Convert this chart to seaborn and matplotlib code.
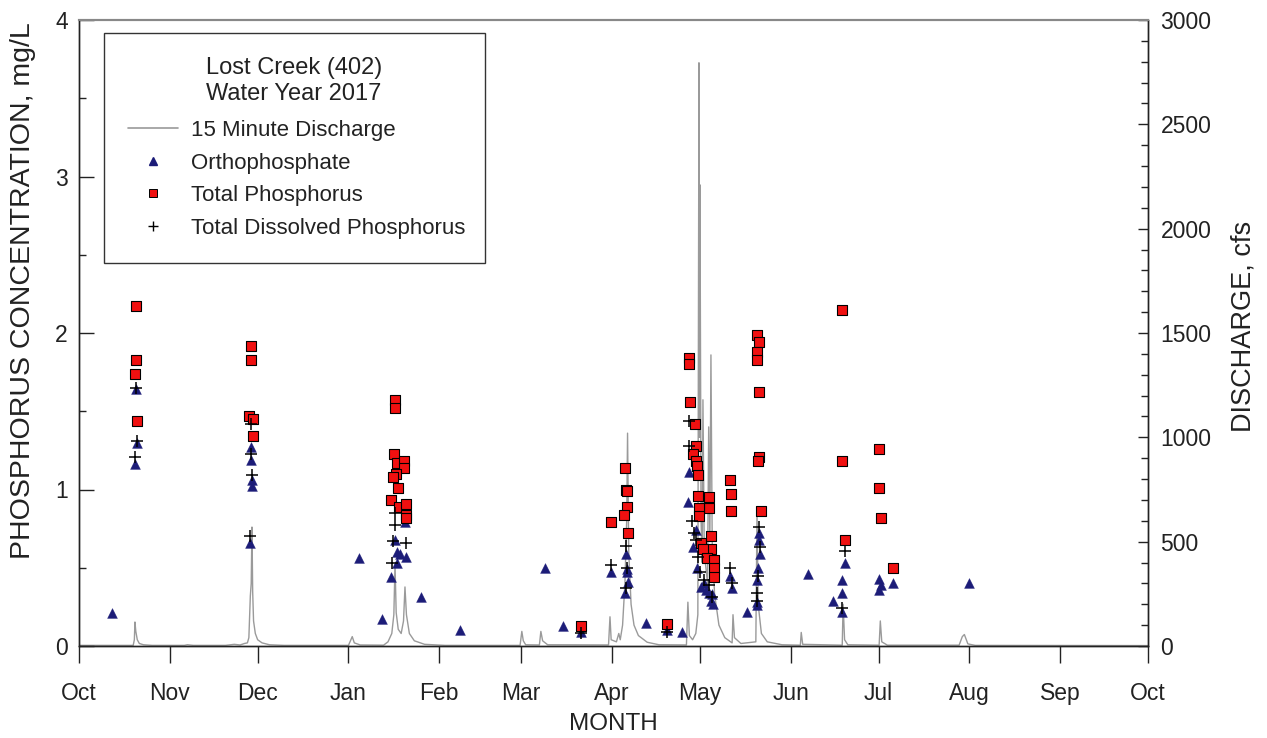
import numpy as np
import pandas as pd
import matplotlib
matplotlib.use("Agg")
import matplotlib.pyplot as plt
from matplotlib.ticker import MultipleLocator
from matplotlib.lines import Line2D
import seaborn as sns

START = pd.Timestamp("2016-10-01")
END = pd.Timestamp("2017-10-01")

# ---- data (day of water year, value) ----
ortho_day = [11.27, 19.46, 19.80, 19.12, 58.72, 58.72, 59.06, 59.06, 58.38, 95.60,
             103.45, 106.52, 107.89, 108.57, 109.59, 111.64, 108.57, 111.30, 116.76, 130.08,
             159.10, 165.24, 171.39, 181.63, 186.75, 187.09, 187.44, 186.41, 187.09, 193.58,
             200.75, 205.87, 208.26, 207.92, 210.65, 209.63, 211.00, 212.36, 215.09, 215.77,
             213.38, 216.12, 216.46, 214.07, 222.26, 222.94, 228.06, 232.16, 232.16, 232.50,
             231.82, 231.48, 231.48, 231.48, 248.89, 261.53, 260.50, 260.50, 257.43, 260.50,
             273.13, 273.81, 273.13, 277.91, 303.86]
ortho_val = [0.21, 1.64, 1.30, 1.16, 1.27, 1.19, 1.06, 1.02, 0.66, 0.56,
             0.17, 0.44, 0.68, 0.60, 0.59, 0.57, 0.53, 0.79, 0.31, 0.10,
             0.50, 0.13, 0.09, 0.47, 0.59, 0.49, 0.41, 0.34, 0.47, 0.15,
             0.10, 0.09, 1.11, 0.92, 0.74, 0.63, 0.50, 0.38, 0.34, 0.29,
             0.40, 0.33, 0.27, 0.36, 0.45, 0.37, 0.22, 0.72, 0.68, 0.59,
             0.50, 0.42, 0.28, 0.26, 0.46, 0.53, 0.42, 0.34, 0.29, 0.22,
             0.43, 0.39, 0.36, 0.40, 0.40]

tp_day = [19.46, 19.46, 19.12, 19.80, 58.72, 58.72, 58.21, 59.41, 59.41,
          107.89, 107.89, 107.55, 108.57, 110.96, 110.96, 108.23, 107.20, 108.91, 106.52,
          109.25, 111.64, 111.64, 111.64, 171.39, 181.63, 186.41, 186.75, 187.09, 187.09,
          186.07, 187.44, 200.75, 208.26, 208.26, 208.60, 210.31, 210.65, 209.63, 210.65,
          211.00, 211.34, 211.34, 215.09, 215.09, 211.68, 211.68, 212.36, 215.77, 215.77,
          213.04, 214.41, 216.80, 216.80, 216.80, 222.26, 222.60, 222.60, 231.48, 232.16,
          231.48, 231.48, 232.16, 232.16, 231.82, 232.84, 260.50, 260.50, 261.53, 273.13,
          273.13, 273.81, 277.91]
tp_val = [2.17, 1.83, 1.74, 1.44, 1.92, 1.83, 1.47, 1.45, 1.34,
          1.57, 1.52, 1.23, 1.17, 1.18, 1.14, 1.10, 1.08, 1.01, 0.93,
          0.89, 0.91, 0.84, 0.82, 0.13, 0.79, 1.14, 1.00, 0.99, 0.89,
          0.84, 0.72, 0.14, 1.84, 1.80, 1.56, 1.42, 1.28, 1.23, 1.18,
          1.15, 1.09, 0.96, 0.95, 0.88, 0.88, 0.83, 0.66, 0.70, 0.62,
          0.62, 0.56, 0.55, 0.50, 0.44, 1.06, 0.97, 0.86, 1.99, 1.94,
          1.88, 1.83, 1.62, 1.21, 1.18, 0.86, 2.15, 1.18, 0.68, 1.26,
          1.01, 0.82, 0.50]

tdp_day = [19.46, 19.80, 19.12, 58.72, 58.72, 59.06, 58.38, 107.89, 107.89, 107.20,
           111.64, 106.86, 171.39, 181.63, 186.75, 187.09, 186.75, 200.75, 208.26, 208.26,
           209.29, 210.65, 212.02, 213.38, 215.09, 216.12, 209.97, 211.34, 222.26, 222.94,
           232.16, 232.50, 231.82, 231.48, 231.48, 261.53, 260.50]
tdp_val = [1.65, 1.31, 1.21, 1.42, 1.23, 1.09, 0.70, 0.85, 0.77, 0.67,
           0.66, 0.53, 0.08, 0.52, 0.64, 0.50, 0.37, 0.09, 1.44, 1.28,
           0.80, 0.68, 0.47, 0.42, 0.39, 0.31, 0.72, 0.57, 0.50, 0.40,
           0.76, 0.63, 0.45, 0.34, 0.29, 0.61, 0.24]

discharge_points = [
    (0, 3), (18.5, 3), (18.9, 30), (19.1, 115), (19.4, 70), (19.9, 30), (20.6, 12), (22, 6),
    (25, 3), (36, 3), (37, 6), (39, 3), (50, 3), (53, 8), (55, 5), (56.5, 12), (57.5, 15),
    (58.0, 40), (58.5, 240), (58.8, 300), (59.06, 570), (59.3, 260), (59.6, 120), (60.2, 60),
    (61, 30), (62.5, 15), (65, 6), (70, 3), (92, 3), (93.3, 45), (94, 15), (96, 5), (104, 4),
    (105.5, 20), (106.8, 60), (107.5, 150), (107.9, 390), (108.3, 160), (109, 80), (110, 60),
    (110.8, 120), (111.3, 283), (111.8, 150), (112.8, 60), (114.5, 25), (118, 8), (125, 3),
    (150.6, 3), (151.2, 70), (151.7, 25), (152.5, 6), (157.2, 5), (157.7, 70), (158.3, 25),
    (160, 6), (180.8, 5), (181.3, 140), (181.7, 30), (183.5, 20), (184.3, 60), (184.8, 30),
    (185.6, 100), (186.4, 300), (187.0, 600), (187.3, 1020), (187.7, 450), (188.5, 200),
    (189.5, 100), (191, 50), (194, 18), (198, 6), (207.4, 5), (207.9, 210), (208.4, 50),
    (209.5, 30), (210.6, 60), (211.3, 150), (211.68, 2795), (211.85, 1000), (212.02, 2210),
    (212.4, 600), (212.8, 400), (213.04, 1180), (213.5, 450), (214.6, 300), (215.0, 1050),
    (215.4, 500), (215.77, 1395), (216.2, 500), (217.0, 250), (218.5, 100), (220.5, 40),
    (223.0, 15), (223.3, 150), (223.8, 40), (226, 12), (231.1, 20), (231.5, 640),
    (231.9, 200), (233, 60), (235, 20), (240, 6), (246.3, 4), (246.6, 65), (247.1, 8),
    (260.6, 4), (260.9, 200), (261.4, 30), (262.5, 6), (273.2, 4), (273.6, 120),
    (274.1, 20), (276, 4), (300.5, 4), (301.6, 45), (302.3, 55), (303.5, 10), (306, 3),
    (365, 2),
]

month_labels = ["Oct", "Nov", "Dec", "Jan", "Feb", "Mar", "Apr", "May", "Jun",
                "Jul", "Aug", "Sep", "Oct"]


def to_dt(days):
    return START + pd.to_timedelta(np.asarray(days, dtype=float), unit="D")


df_op = pd.DataFrame({"date": to_dt(ortho_day), "conc": ortho_val})
df_tp = pd.DataFrame({"date": to_dt(tp_day), "conc": tp_val})
df_tdp = pd.DataFrame({"date": to_dt(tdp_day), "conc": tdp_val})
qd, qv = zip(*discharge_points)
df_q = pd.DataFrame({"date": to_dt(qd), "cfs": qv})

sns.set_theme(style="ticks")
plt.rcParams["font.family"] = ["Liberation Sans", "DejaVu Sans"]
plt.rcParams["text.color"] = "#222222"
plt.rcParams["axes.labelcolor"] = "#222222"
plt.rcParams["xtick.color"] = "#222222"
plt.rcParams["ytick.color"] = "#222222"

fig = plt.figure(figsize=(12.67, 7.38), dpi=100)
ax = fig.add_axes([79 / 1267, 92 / 738, 1069 / 1267, 626 / 738])
ax2 = ax.twinx()

NAVY = "#1c1c78"
RED = "#f01010"
GRAY = "#9a9a9a"

sns.lineplot(data=df_q, x="date", y="cfs", ax=ax2, color=GRAY, linewidth=1.0,
             estimator=None, sort=False)

sns.scatterplot(data=df_op, x="date", y="conc", ax=ax, marker="^", s=50,
                color=NAVY, edgecolor=NAVY, linewidth=0.3, zorder=3)
sns.scatterplot(data=df_tp, x="date", y="conc", ax=ax, marker="s", s=62,
                color=RED, edgecolor="black", linewidth=0.8, zorder=4)
sns.scatterplot(data=df_tdp, x="date", y="conc", ax=ax, marker="+", s=70,
                color="black", linewidth=1.1, zorder=5)

ax.set_zorder(ax2.get_zorder() + 1)
ax.patch.set_visible(False)

ax.set_xlim(START, END)
ax.set_ylim(0, 4)
ax2.set_ylim(0, 3000)

ticks = pd.date_range(START, END, freq="MS")
ax.set_xticks(ticks)
ax.set_xticklabels(month_labels)
ax.xaxis.set_minor_locator(matplotlib.ticker.NullLocator())

ax.yaxis.set_major_locator(MultipleLocator(1))
ax.yaxis.set_minor_locator(MultipleLocator(0.5))
ax2.yaxis.set_major_locator(MultipleLocator(500))
ax2.yaxis.set_minor_locator(MultipleLocator(100))

ax.tick_params(axis="x", which="major", direction="out", length=12, width=1,
               pad=14, labelsize=16.5, bottom=True, top=False)
ax.tick_params(axis="y", which="major", direction="in", length=11, width=1,
               pad=8, labelsize=16.5, left=True, right=False)
ax.tick_params(axis="y", which="minor", direction="in", length=5, width=1,
               left=True, right=False)
ax2.tick_params(axis="y", which="major", direction="in", length=7, width=1,
                pad=9, labelsize=16.5, right=True, left=False)
ax2.tick_params(axis="y", which="minor", direction="in", length=5, width=1,
                right=True, left=False)

for a in (ax, ax2):
    for side, sp in a.spines.items():
        sp.set_visible(True)
        sp.set_linewidth(1.0)
        sp.set_color("#222222")
    a.spines["top"].set_color("#888888")
    a.spines["top"].set_linewidth(1.5)

ax.set_xlabel("MONTH", fontsize=17.5, labelpad=6)
ax.set_ylabel("PHOSPHORUS CONCENTRATION, mg/L", fontsize=20.5)
ax.yaxis.set_label_coords(-0.040, 0.567)
ax2.set_ylabel("DISCHARGE, cfs", fontsize=19.5, rotation=90)
ax2.yaxis.set_label_coords(1.077, 0.51)

handles = [
    Line2D([], [], color=GRAY, linewidth=1.2),
    Line2D([], [], marker="^", linestyle="none", color=NAVY, markersize=6),
    Line2D([], [], marker="s", linestyle="none", markerfacecolor=RED,
           markeredgecolor="black", markeredgewidth=0.7, markersize=6),
    Line2D([], [], marker="+", linestyle="none", color="black", markersize=7,
           markeredgewidth=1.0),
]
labels = ["15 Minute Discharge", "Orthophosphate", "Total Phosphorus",
          "Total Dissolved Phosphorus"]
leg = ax.legend(handles, labels, title="Lost Creek (402)\nWater Year 2017",
                loc="upper left", bbox_to_anchor=(25 / 1069, 1 - 13 / 626, 381 / 1069, 0),
                mode="expand", borderaxespad=0, frameon=True, fancybox=False,
                fontsize=16, title_fontsize=17, handlelength=2.25, handletextpad=0.55,
                labelspacing=0.52, borderpad=1.1)
leg.get_frame().set_edgecolor("#333333")
leg.get_frame().set_linewidth(1.0)
leg.get_frame().set_facecolor("white")
leg.get_frame().set_alpha(1.0)
leg._legend_box.sep = 11

fig.savefig("out.png", dpi=100)
